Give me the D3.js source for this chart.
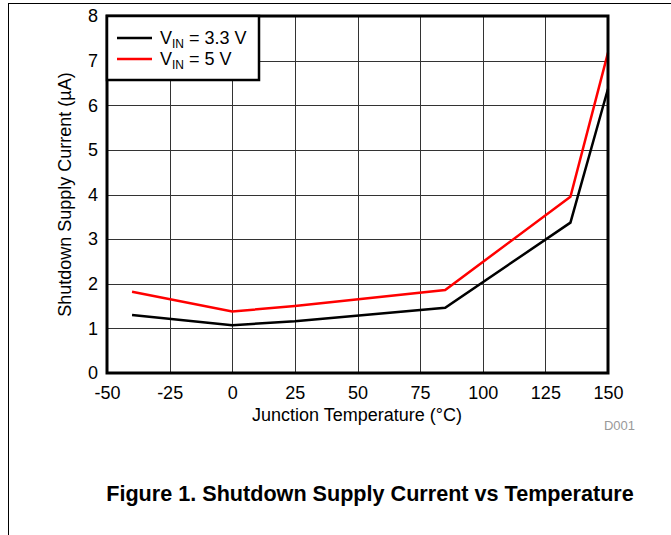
<!DOCTYPE html>
<html><head><meta charset="utf-8">
<script src="https://cdn.jsdelivr.net/npm/d3@7"></script>
<style>body{margin:0;background:#fff;} text{font-family:"Liberation Sans",Arial,sans-serif;}</style>
</head><body>
<svg id="c" width="671" height="535"></svg>
<script>
const temps = [-40, 0, 25, 85, 135, 150];
const vin33 = [1.30, 1.07, 1.16, 1.46, 3.37, 6.37];
const vin5 = [1.82, 1.38, 1.50, 1.86, 3.95, 7.18];
const xTicks = [-50, -25, 0, 25, 50, 75, 100, 125, 150];
const yTicks = [0, 1, 2, 3, 4, 5, 6, 7, 8];
const seriesNames = ["3.3 V", "5 V"];
const seriesColors = ["#000000", "#ff0000"];

const svg = d3.select("#c");
const L = 107, R = 608, T = 16, B = 373;
const x = d3.scaleLinear().domain([-50, 150]).range([L, R]);
const y = d3.scaleLinear().domain([0, 8]).range([B, T]);
const FS = 18;

// outer frame
svg.append("line").attr("x1", 8.5).attr("x2", 8.5).attr("y1", 3).attr("y2", 535).attr("stroke", "#000").attr("stroke-width", 1);
svg.append("line").attr("x1", 8).attr("x2", 671).attr("y1", 3.5).attr("y2", 3.5).attr("stroke", "#000").attr("stroke-width", 1);

// grid
svg.append("g").selectAll("line").data(xTicks).join("line")
  .attr("x1", d => Math.round(x(d)) + 0.5).attr("x2", d => Math.round(x(d)) + 0.5)
  .attr("y1", T).attr("y2", B).attr("stroke", "#333").attr("stroke-width", 1);
svg.append("g").selectAll("line").data(yTicks).join("line")
  .attr("y1", d => Math.round(y(d)) + 0.5).attr("y2", d => Math.round(y(d)) + 0.5)
  .attr("x1", L).attr("x2", R).attr("stroke", "#333").attr("stroke-width", 1);

// axes labels
const xa = d3.axisBottom(x).tickValues(xTicks).tickSize(0).tickPadding(13).tickFormat(d => String(d));
const gx = svg.append("g").attr("transform", `translate(0,${B})`).call(xa);
gx.select(".domain").remove();
gx.selectAll("text").attr("font-size", FS).attr("font-family", "Liberation Sans, Arial").attr("fill", "#000");
const ya = d3.axisLeft(y).tickValues(yTicks).tickSize(0).tickPadding(9).tickFormat(d => String(d));
const gy = svg.append("g").attr("transform", `translate(${L},0)`).call(ya);
gy.select(".domain").remove();
gy.selectAll("text").attr("font-size", FS).attr("font-family", "Liberation Sans, Arial").attr("fill", "#000");

// series
const line = d3.line().x(d => x(d[0])).y(d => y(d[1]));
[vin33, vin5].forEach((vals, i) => {
  svg.append("path").datum(temps.map((t, j) => [t, vals[j]]))
    .attr("d", line).attr("fill", "none").attr("stroke", seriesColors[i]).attr("stroke-width", 2.5)
    .attr("stroke-linejoin", "miter");
});

// plot frame
svg.append("rect").attr("x", L).attr("y", T).attr("width", R - L).attr("height", B - T)
  .attr("fill", "none").attr("stroke", "#000").attr("stroke-width", 3);

// legend
const lg = svg.append("g");
lg.append("rect").attr("x", L).attr("y", T).attr("width", 152).attr("height", 64)
  .attr("fill", "#fff").attr("stroke", "#000").attr("stroke-width", 2.5);
seriesNames.forEach((n, i) => {
  const yy = 38 + i * 21;
  lg.append("line").attr("x1", 117).attr("x2", 152).attr("y1", yy).attr("y2", yy)
    .attr("stroke", seriesColors[i]).attr("stroke-width", 2.5);
  const t = lg.append("text").attr("x", 160).attr("y", yy + 6).attr("font-size", FS).attr("fill", "#000");
  t.append("tspan").text("V");
  t.append("tspan").attr("font-size", 12).attr("dy", 4).text("IN");
  t.append("tspan").attr("dy", -4).text(" = " + n);
});

// axis titles
svg.append("text").attr("x", 357).attr("y", 421).attr("text-anchor", "middle").attr("font-size", FS).text("Junction Temperature (°C)");
svg.append("text").attr("transform", `translate(71,${(T + B) / 2}) rotate(-90)`).attr("text-anchor", "middle")
  .attr("font-size", FS).text("Shutdown Supply Current (µA)");
svg.append("text").attr("x", 635).attr("y", 430).attr("text-anchor", "end").attr("font-size", 13).attr("fill", "#999").text("D001");
svg.append("text").attr("x", 370).attr("y", 501).attr("text-anchor", "middle").attr("font-size", 21.6).attr("font-weight", "bold")
  .text("Figure 1. Shutdown Supply Current vs Temperature");
</script>
</body></html>
